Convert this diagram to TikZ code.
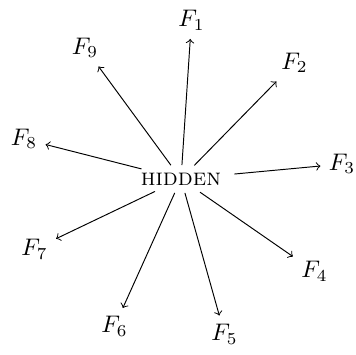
\documentclass[tikz,border=0pt]{standalone}
\usetikzlibrary{shapes.geometric}
\begin{document}
\begin{tikzpicture}[x=0.41667pt,y=-0.41667pt,
  hub/.style={ellipse,inner sep=0pt,minimum height=11.25pt},
  lab/.style={inner sep=3.33pt},
  link/.style={->}]
\useasboundingbox (0,0) rectangle (356,354);
\node[hub] (h) at (181,179) {\textsc{hidden}};
\node[lab] (f1) at (191.5,20.5) {$F_1$};
\node[lab] (f2) at (294.5,63) {$F_2$};
\node[lab] (f3) at (342,164) {$F_3$};
\node[lab] (f4) at (314.5,271.5) {$F_4$};
\node[lab] (f5) at (224.5,334) {$F_5$};
\node[lab] (f6) at (114.5,326.5) {$F_6$};
\node[lab] (f7) at (34.5,249) {$F_7$};
\node[lab] (f8) at (24,139) {$F_8$};
\node[lab] (f9) at (85,48) {$F_9$};
\foreach \i in {1,...,9} \draw[link] (h) -- (f\i);
\end{tikzpicture}
\end{document}
